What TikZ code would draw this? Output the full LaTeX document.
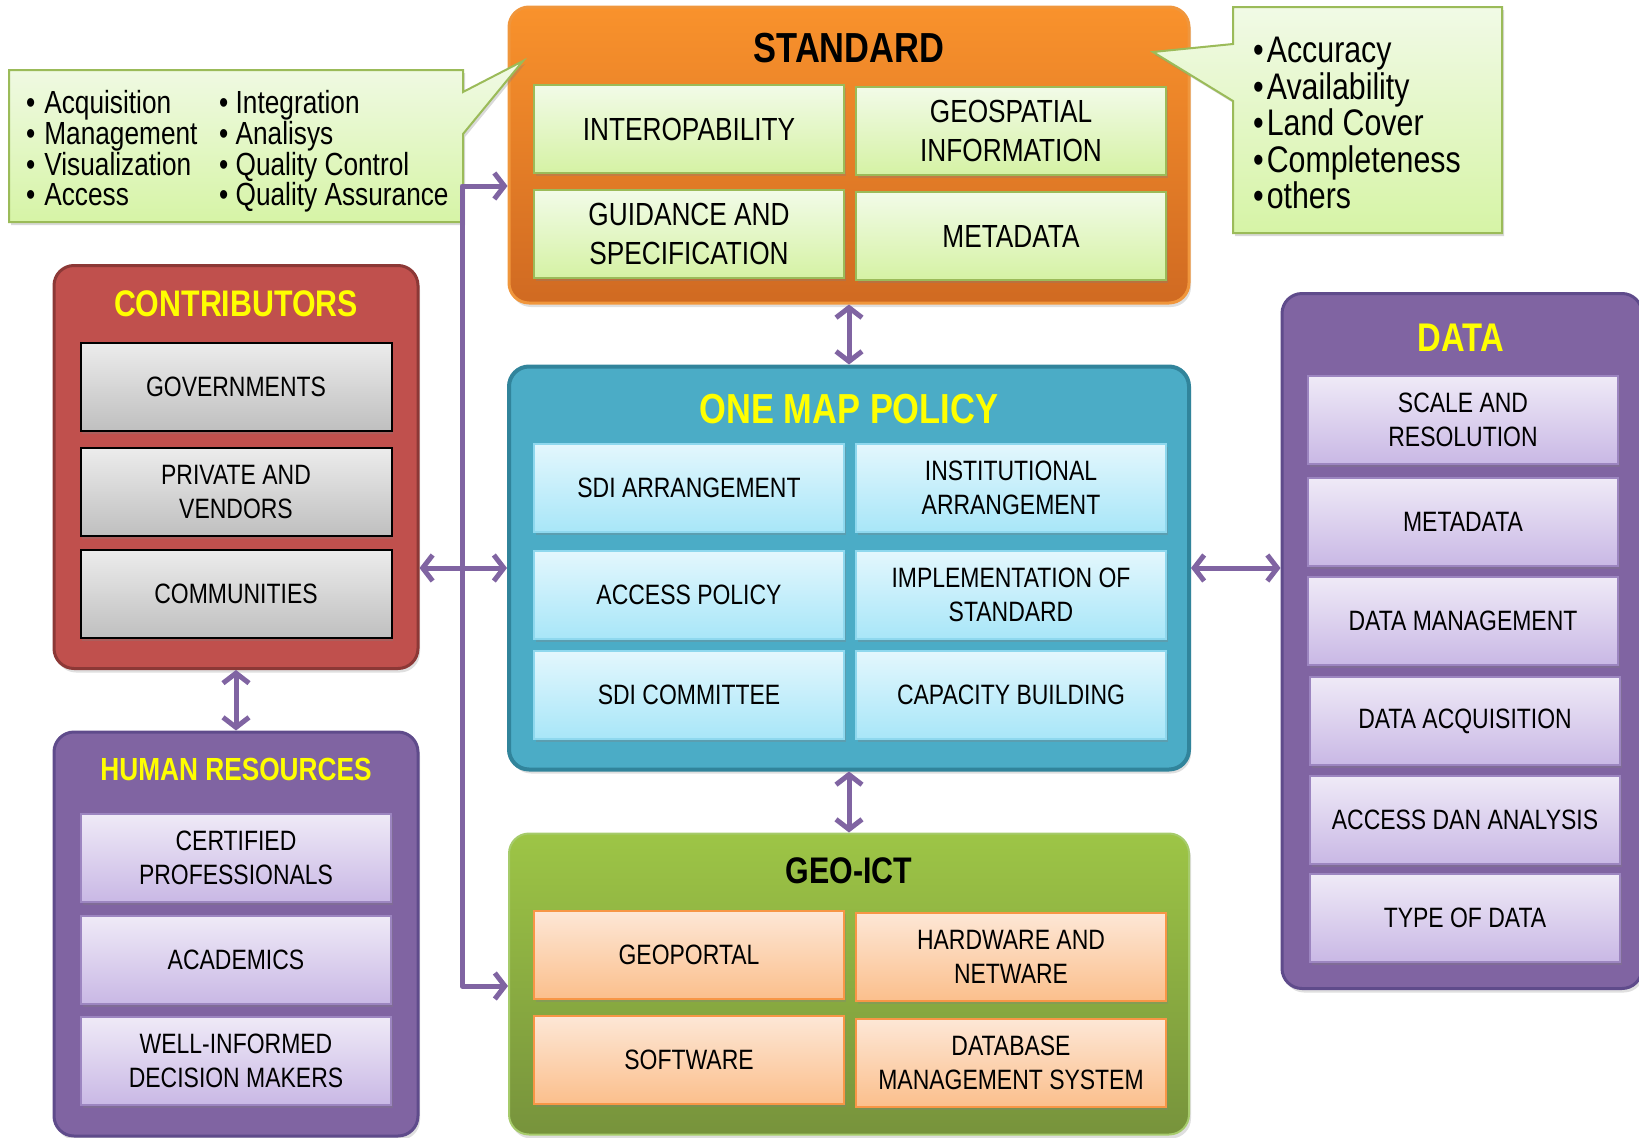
\documentclass[tikz,border=0pt]{standalone}
\usepackage{fontspec}
\setmainfont[FakeStretch=0.82]{Liberation Sans}
\usetikzlibrary{arrows.meta,shadows}

\definecolor{linkpurple}{HTML}{8064A2}
\definecolor{purpleedge}{HTML}{5F4B8B}
\definecolor{redfill}{HTML}{C0504D}
\definecolor{rededge}{HTML}{8C3836}
\definecolor{tealfill}{HTML}{4BACC6}
\definecolor{tealedge}{HTML}{31849B}
\definecolor{titleyellow}{HTML}{FFFF00}

\tikzset{
  >={Straight Barb[length=10pt,width=26pt]},
  link/.style={draw=linkpurple, line width=5pt, line cap=round, line join=round},
  panel/.style={rounded corners=20pt, line width=3pt, minimum width=680pt,
    drop shadow={opacity=0.25, shadow xshift=2pt, shadow yshift=-4pt}},
  stdpanel/.style={panel, draw={rgb,255:red,240;green,150;blue,60}, top color={rgb,255:red,249;green,146;blue,44}, bottom color={rgb,255:red,208;green,106;blue,34}},
  omppanel/.style={panel, line width=4pt, draw=tealedge, fill=tealfill},
  geopanel/.style={panel, line width=2pt, draw={rgb,255:red,166;green,203;blue,107}, top color={rgb,255:red,157;green,197;blue,70}, bottom color={rgb,255:red,119;green,147;blue,60}},
  conpanel/.style={panel, draw=rededge, fill=redfill, minimum width=364pt},
  lilapanel/.style={panel, draw=purpleedge, fill=linkpurple},
  title/.style={font=\bfseries\fontsize{42}{42}\selectfont},
  item/.style={line width=1.5pt, minimum width=310pt, minimum height=88pt, align=center, inner sep=2pt,
    font=\fontsize{28}{33.5}\selectfont,
    drop shadow={opacity=0.3, shadow xshift=1.5pt, shadow yshift=-3pt}},
  stditem/.style={item, font=\fontsize{32}{38.5}\selectfont, draw={rgb,255:red,155;green,187;blue,89}, top color={rgb,255:red,242;green,251;blue,232}, bottom color={rgb,255:red,213;green,242;blue,164}},
  ompitem/.style={item, draw={rgb,255:red,142;green,216;blue,238}, top color={rgb,255:red,227;green,247;blue,253}, bottom color={rgb,255:red,168;green,230;blue,248}},
  geoitem/.style={item, line width=2pt, draw={rgb,255:red,247;green,150;blue,70}, top color={rgb,255:red,253;green,231;blue,214}, bottom color={rgb,255:red,251;green,191;blue,140}},
  conitem/.style={item, line width=2pt, draw=black, top color={rgb,255:red,236;green,236;blue,236}, bottom color={rgb,255:red,191;green,191;blue,191}, minimum width=311pt},
  lilaitem/.style={item, draw={rgb,255:red,156;green,133;blue,192}, top color={rgb,255:red,239;green,234;blue,247}, bottom color={rgb,255:red,201;green,184;blue,229}},
  note/.style={line width=2pt, draw={rgb,255:red,155;green,187;blue,89}, top color={rgb,255:red,241;green,250;blue,230}, bottom color={rgb,255:red,214;green,244;blue,166},
    drop shadow={opacity=0.3, shadow xshift=2pt, shadow yshift=-3pt}},
  notetext/.style={anchor=north west, align=left, inner sep=0pt},
}

\begin{document}
\begin{tikzpicture}[x=1pt, y=-1pt]
  \useasboundingbox (0,0) rectangle (1639,1138);

  % STANDARD
  \node[stdpanel, minimum height=296pt] (std) at (849,155) {};
  \node[title] (stdtitle) at (849,48) {STANDARD};
  \node[stditem] (interop) at (689,129) {INTEROPABILITY};
  \node[stditem] (geoinfo) at (1011,131) {GEOSPATIAL\\INFORMATION};
  \node[stditem] (guide) at (689,234) {GUIDANCE AND\\SPECIFICATION};
  \node[stditem] (stdmeta) at (1011,236) {METADATA};

  % ONE MAP POLICY
  \node[omppanel, minimum height=403pt] (omp) at (849,568) {};
  \node[title, text=titleyellow] (omptitle) at (849,409) {ONE MAP POLICY};
  \node[ompitem] (sdiarr) at (689,488) {SDI ARRANGEMENT};
  \node[ompitem] (instarr) at (1011,488) {INSTITUTIONAL\\ARRANGEMENT};
  \node[ompitem] (access) at (689,595) {ACCESS POLICY};
  \node[ompitem] (implstd) at (1011,595) {IMPLEMENTATION OF\\STANDARD};
  \node[ompitem] (sdicom) at (689,695) {SDI COMMITTEE};
  \node[ompitem] (capacity) at (1011,695) {CAPACITY BUILDING};

  % GEO-ICT
  \node[geopanel, minimum height=301pt] (geo) at (849,984) {};
  \node[title, font=\bfseries\fontsize{37}{37}\selectfont] (geotitle) at (849,871) {GEO-ICT};
  \node[geoitem] (portal) at (689,955) {GEOPORTAL};
  \node[geoitem] (hardware) at (1011,957) {HARDWARE AND\\NETWARE};
  \node[geoitem] (software) at (689,1060) {SOFTWARE};
  \node[geoitem] (dbms) at (1011,1063) {DATABASE\\MANAGEMENT SYSTEM};

  % CONTRIBUTORS
  \node[conpanel, minimum height=403pt] (con) at (236,467) {};
  \node[title, text=titleyellow, font=\bfseries\fontsize{37}{37}\selectfont] (contitle) at (236,304) {CONTRIBUTORS};
  \node[conitem] (gov) at (236,387) {GOVERNMENTS};
  \node[conitem] (private) at (236,492) {PRIVATE AND\\VENDORS};
  \node[conitem] (communities) at (236,594) {COMMUNITIES};

  % HUMAN RESOURCES
  \node[lilapanel, minimum width=364pt, minimum height=404pt] (hr) at (236,934) {};
  \node[title, text=titleyellow, font=\bfseries\fontsize{32}{32}\selectfont] (hrtitle) at (236,769) {HUMAN RESOURCES};
  \node[lilaitem] (certified) at (236,858) {CERTIFIED\\PROFESSIONALS};
  \node[lilaitem] (academics) at (236,960) {ACADEMICS};
  \node[lilaitem] (makers) at (236,1061) {WELL-INFORMED\\DECISION MAKERS};

  % DATA
  \node[lilapanel, minimum width=360pt, minimum height=695pt] (dat) at (1462,641) {};
  \node[title, text=titleyellow, font=\bfseries\fontsize{40}{40}\selectfont] (dattitle) at (1461,338) {DATA};
  \node[lilaitem] (scale) at (1463,420) {SCALE AND\\RESOLUTION};
  \node[lilaitem] (datmeta) at (1463,522) {METADATA};
  \node[lilaitem] (datman) at (1463,621) {DATA MANAGEMENT};
  \node[lilaitem] (datacq) at (1465,721) {DATA ACQUISITION};
  \node[lilaitem] (analysis) at (1465,820) {ACCESS DAN ANALYSIS};
  \node[lilaitem] (types) at (1465,918) {TYPE OF DATA};

  % callouts
  \draw[note] (9,70) -- (463,70) -- (463,92) -- (523,61) -- (463,134) -- (463,222) -- (9,222) -- cycle;
  \node[notetext, font=\fontsize{32}{30.7}\selectfont] (notea) at (26,90.5)
    {•\hspace{9pt}Acquisition\\•\hspace{9pt}Management\\•\hspace{9pt}Visualization\\•\hspace{9pt}Access};
  \node[notetext, font=\fontsize{32}{30.7}\selectfont] (noteb) at (219,90.5)
    {• Integration\\• Analisys\\• Quality Control\\• Quality Assurance};
  \draw[note] (1233,7) -- (1502,7) -- (1502,233) -- (1233,233) -- (1233,101) -- (1153,52) -- (1233,44) -- cycle;
  \node[notetext, font=\fontsize{37}{36.5}\selectfont] (notec) at (1253,37)
    {•\hspace{3pt}Accuracy\\•\hspace{3pt}Availability\\•\hspace{3pt}Land Cover\\•\hspace{3pt}Completeness\\•\hspace{3pt}others};

  % connectors
  \draw[link, <->] (std) -- (omp);
  \draw[link, <->] (omp) -- (geo);
  \draw[link, <->] (con) -- (hr);
  \draw[link, <->] (omp.east) -- (omp.east -| dat.west);
  \draw[link, <->] (omp.west) -- (omp.west -| con.east);
  \coordinate (bustop) at (462,186);
  \coordinate (busbot) at (462,986);
  \draw[link, <->] (bustop -| std.west) -- (bustop) -- (busbot) -- (busbot -| geo.west);
\end{tikzpicture}
\end{document}
